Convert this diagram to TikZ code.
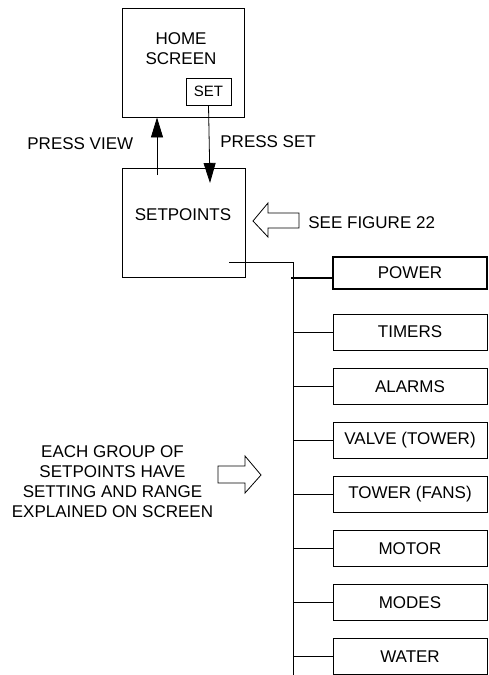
\documentclass[tikz,border=0pt]{standalone}
\usepackage{fontspec}
\setmainfont{Liberation Sans}
\usetikzlibrary{arrows.meta}
\begin{document}
\begin{tikzpicture}[x=1pt,y=-1pt,
  font=\fontsize{17}{20}\selectfont,
  line width=0.8pt,
  bigbox/.style={draw,minimum width=122pt,minimum height=109pt,inner sep=0pt},
  menubox/.style={draw,minimum width=154pt,minimum height=36pt,inner sep=0pt},
  lbl/.style={inner sep=0pt,align=center},
  hollow/.style={draw,fill=white,line width=0.8pt,line join=miter},
  tip/.style={-{Triangle[length=20pt,width=12pt]}}]
\useasboundingbox (0,0) rectangle (488,675);
% home screen
\node[bigbox] (home) at (183,62.5) {};
\node[lbl] (hometxt) at (181,49) {HOME\\SCREEN};
\node[draw,minimum width=45pt,minimum height=27pt,inner sep=0pt,font=\fontsize{15}{18}\selectfont] (set) at (208.5,91.5) {SET};
% setpoints
\node[bigbox,minimum width=123pt] (sp) at (183.5,222.5) {};
\node[lbl] (sptxt) at (183,215) {SETPOINTS};
% arrows between
\coordinate (upstart) at (157,175);
\coordinate (downend) at (210,183);
\draw[tip] (upstart) -- (upstart |- home.south);
\draw[tip] (set.south) -- (downend);
\node[lbl,anchor=west] (pv) at (27,144) {PRESS VIEW};
\node[lbl,anchor=west] (ps) at (220,142) {PRESS SET};
% see figure 22
\draw[hollow] (253,221) -- (268,203) -- (268,213) -- (299,213) -- (299,228) -- (268,228) -- (268,237) -- cycle;
\node[lbl,anchor=west] (fig) at (308,223) {SEE FIGURE 22};
% menu boxes
\node[menubox,minimum height=32pt,line width=1.6pt] (power) at (410,273) {POWER};
\node[menubox] (timers) at (410,332) {TIMERS};
\node[menubox] (alarms) at (410,386.5) {ALARMS};
\node[menubox] (valve) at (410,440.5) {VALVE (TOWER)};
\node[menubox] (tower) at (410,494.5) {TOWER (FANS)};
\node[menubox] (motor) at (410,548.5) {MOTOR};
\node[menubox] (modes) at (410,602.5) {MODES};
\node[menubox] (water) at (410,656.5) {WATER};
% bus
\coordinate (spout) at (229,262);
\coordinate (bustop) at (293,262);
\coordinate (busbot) at (293,675);
\draw (spout) -- (bustop) -- (busbot);
\coordinate (ptick) at (291,278);
\draw[line width=1.6pt] (ptick) -- (ptick -| power.west);
\foreach \n in {timers,alarms,valve,tower,motor,modes,water}
  \draw (bustop |- \n.west) -- (\n.west);
% left note
\node[lbl] (note) at (112.5,482) {EACH GROUP OF\\SETPOINTS HAVE\\SETTING AND RANGE\\EXPLAINED ON SCREEN};
\draw[hollow] (261,475) -- (245,456) -- (245,466) -- (218,466) -- (218,483) -- (245,483) -- (245,493) -- cycle;
\end{tikzpicture}
\end{document}
